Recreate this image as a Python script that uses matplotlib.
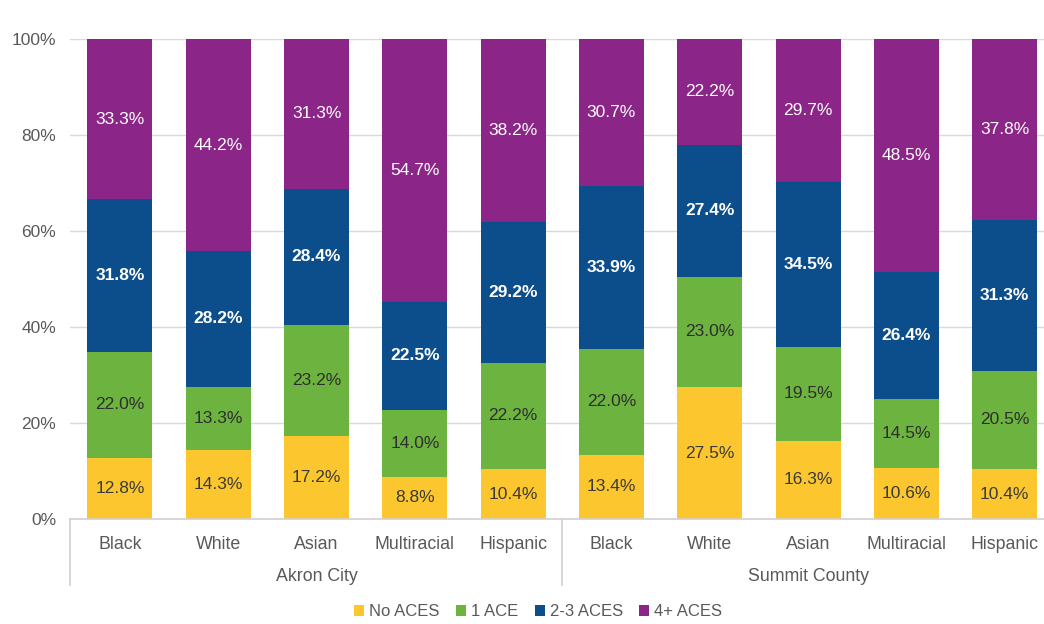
import matplotlib.pyplot as plt
from matplotlib.transforms import blended_transform_factory
from matplotlib.patches import Patch
import numpy as np

plt.rcParams['font.family'] = ['Liberation Sans', 'DejaVu Sans']

# Race/ethnicity categories within each area
categories = ["Black", "White", "Asian", "Multiracial", "Hispanic",
              "Black", "White", "Asian", "Multiracial", "Hispanic"]
groups = ["Akron City", "Summit County"]

# Share of respondents by number of adverse childhood experiences (%)
no_aces = [12.8, 14.3, 17.2, 8.8, 10.4, 13.4, 27.5, 16.3, 10.6, 10.4]
one_ace = [22.0, 13.3, 23.2, 14.0, 22.2, 22.0, 23.0, 19.5, 14.5, 20.5]
two_three_aces = [31.8, 28.2, 28.4, 22.5, 29.2, 33.9, 27.4, 34.5, 26.4, 31.3]
four_plus_aces = [33.3, 44.2, 31.3, 54.7, 38.2, 30.7, 22.2, 29.7, 48.5, 37.8]

series = [
    ("No ACES", no_aces, "#FCC72E", "#3a3a3a", "normal"),
    ("1 ACE", one_ace, "#6CB33F", "#2e2e2e", "normal"),
    ("2-3 ACES", two_three_aces, "#0C4E8B", "white", "bold"),
    ("4+ ACES", four_plus_aces, "#8C2588", "white", "normal"),
]

W, H = 1044, 624
fig = plt.figure(figsize=(W / 100, H / 100), dpi=100)
ax = fig.add_axes([70 / W, 105 / H, (W - 70) / W, 480 / H])

x = np.arange(len(categories))
bottom = np.zeros(len(categories))
for name, vals, color, tcolor, weight in series:
    vals = np.array(vals)
    ax.bar(x, vals, width=0.66, bottom=bottom, color=color, label=name, zorder=2)
    for xi, b, v in zip(x, bottom, vals):
        ax.text(xi, b + v / 2, f"{v:.1f}%", ha="center", va="center",
                color=tcolor, fontsize=12.5, fontweight=weight, zorder=3)
    bottom += vals

ax.set_xlim(-0.508, 9.40)
ax.set_ylim(0, 100)
ax.set_yticks(np.arange(0, 101, 20))
ax.set_yticklabels([f"{v}%" for v in range(0, 101, 20)], color="#595959", fontsize=12.5)
ax.yaxis.grid(True, color="#d9d9d9", linewidth=1, zorder=0)
ax.set_axisbelow(True)
ax.tick_params(axis="y", length=0, pad=10)
ax.tick_params(axis="x", length=0, pad=12)
ax.set_xticks(x)
ax.set_xticklabels(categories, color="#595959", fontsize=12.8)

for side in ["left", "right", "top"]:
    ax.spines[side].set_visible(False)
ax.spines["bottom"].set_color("#d0d0d0")
ax.spines["bottom"].set_linewidth(1.2)

# Group separators and group labels beneath the category labels
trans = blended_transform_factory(ax.transData, ax.transAxes)
for sx in [-0.508, 4.5]:
    ax.plot([sx, sx], [0, -0.138], transform=trans, color="#d0d0d0",
            linewidth=1.2, clip_on=False)
for gi, g in enumerate(groups):
    ax.text(gi * 5 + 2, -0.12, g, transform=trans, ha="center", va="center",
            color="#595959", fontsize=12.8)

handles = [Patch(facecolor=c, label=n) for n, _, c, _, _ in series]
fig.legend(handles=handles, loc="center", bbox_to_anchor=(538 / W, 1 - 612 / H),
           ncol=4, frameon=False, fontsize=12, handlelength=0.6, handleheight=0.6,
           handletextpad=0.3, columnspacing=1.0, labelcolor="#595959")

fig.savefig("out.png", dpi=100)
